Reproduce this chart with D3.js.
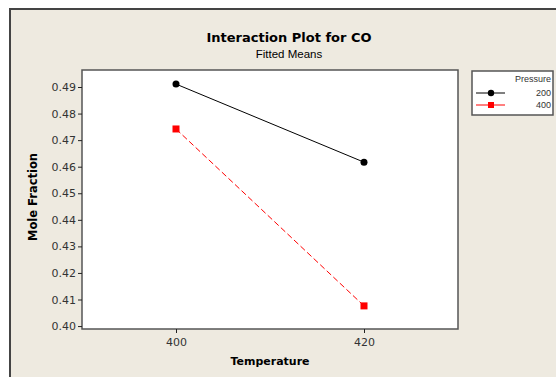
<!DOCTYPE html>
<html>
<head>
    <script type="text/javascript" src="https://cdn.jsdelivr.net/npm/d3@7"></script>
    <style>
        body { margin: 0; background: #fff; }
        text { font-family: "DejaVu Sans", Verdana, sans-serif; }
    </style>
</head>
<body>
    <div id="chart"></div>
    <script type="text/javascript">

        // data
        let temps = [400, 420];
        let pressures = ["200", "400"];
        let means200 = [0.4911, 0.4617];
        let means400 = [0.4742, 0.4076];
        let yTicks = [0.40, 0.41, 0.42, 0.43, 0.44, 0.45, 0.46, 0.47, 0.48, 0.49];

        let width = 556, height = 377;
        let plotLeft = 82, plotRight = 458, plotTop = 70, plotBottom = 329;

        let svg = d3.select("#chart")
            .append("svg")
            .attr("width", width)
            .attr("height", height);

        // outer beige frame
        svg.append("rect")
            .attr("x", 10).attr("y", 9)
            .attr("width", width).attr("height", height)
            .style("fill", "#eeeae0")
            .style("stroke", "#444")
            .style("stroke-width", 2);

        svg.append("text")
            .attr("x", 289).attr("y", 42)
            .attr("text-anchor", "middle")
            .style("font-size", "13px")
            .style("font-weight", "bold")
            .text("Interaction Plot for CO");
        svg.append("text")
            .attr("x", 289).attr("y", 58)
            .attr("text-anchor", "middle")
            .style("font-family", "'Liberation Sans', Arial, sans-serif")
            .style("font-size", "11.5px")
            .text("Fitted Means");

        let x = d3.scaleLinear().domain([390, 430]).range([plotLeft, plotRight]);
        let y = d3.scaleLinear().domain([0.3989, 0.4964]).range([plotBottom, plotTop]);

        svg.append("rect")
            .attr("x", plotLeft).attr("y", plotTop)
            .attr("width", plotRight - plotLeft).attr("height", plotBottom - plotTop)
            .style("fill", "#fff")
            .style("stroke", "#555")
            .style("stroke-width", 1.5);

        let yAxis = svg.append("g")
            .attr("transform", `translate(${plotLeft},0)`)
            .call(d3.axisLeft(y).tickValues(yTicks).tickSize(4).tickFormat(d3.format(".2f")));
        let xAxis = svg.append("g")
            .attr("transform", `translate(0,${plotBottom})`)
            .call(d3.axisBottom(x).tickValues(temps).tickSize(4).tickFormat(d3.format("d")));
        [yAxis, xAxis].forEach(a => {
            a.select(".domain").remove();
            a.selectAll(".tick line").style("stroke", "#222");
            a.selectAll("text")
                .style("font-family", "'DejaVu Sans', Verdana, sans-serif")
                .style("font-size", "11px")
                .style("fill", "#333");
        });
        yAxis.selectAll("text").attr("x", -6);
        xAxis.selectAll("text").attr("y", 9);

        svg.append("text")
            .attr("transform", "translate(37,197) rotate(-90)")
            .attr("text-anchor", "middle")
            .style("font-size", "11.5px")
            .style("font-weight", "bold")
            .text("Mole Fraction");
        svg.append("text")
            .attr("x", 270).attr("y", 365)
            .attr("text-anchor", "middle")
            .style("font-size", "11px")
            .style("font-weight", "bold")
            .text("Temperature");

        let line = d3.line().x(d => x(d[0])).y(d => y(d[1]));
        let pts200 = temps.map((t, i) => [t, means200[i]]);
        let pts400 = temps.map((t, i) => [t, means400[i]]);

        svg.append("path")
            .attr("d", line(pts200))
            .style("fill", "none")
            .style("stroke", "#000")
            .style("stroke-width", 1);
        svg.selectAll("circle.p200")
            .data(pts200)
            .enter()
            .append("circle")
            .attr("cx", d => x(d[0]))
            .attr("cy", d => y(d[1]))
            .attr("r", 3.5)
            .style("fill", "#000");

        svg.append("path")
            .attr("d", line(pts400))
            .style("fill", "none")
            .style("stroke", "#f00")
            .style("stroke-width", 1)
            .style("stroke-dasharray", "6,3");
        svg.selectAll("rect.p400")
            .data(pts400)
            .enter()
            .append("rect")
            .attr("x", d => x(d[0]) - 3.5)
            .attr("y", d => y(d[1]) - 3.5)
            .attr("width", 7).attr("height", 7)
            .style("fill", "#f00");

        // legend
        let lg = svg.append("g");
        lg.append("rect")
            .attr("x", 472).attr("y", 71)
            .attr("width", 81).attr("height", 44)
            .style("fill", "#fff")
            .style("stroke", "#555")
            .style("stroke-width", 1.5);
        lg.append("text")
            .attr("x", 551).attr("y", 82)
            .attr("text-anchor", "end")
            .style("font-family", "'Liberation Sans', Arial, sans-serif")
            .style("font-size", "9px")
            .style("fill", "#333")
            .text("Pressure");
        let colors = ["#000", "#f00"];
        pressures.forEach((p, i) => {
            let ly = 93 + i * 12;
            lg.append("line")
                .attr("x1", 476).attr("x2", 505)
                .attr("y1", ly).attr("y2", ly)
                .style("stroke", colors[i]);
            if (i === 0) {
                lg.append("circle").attr("cx", 491).attr("cy", ly).attr("r", 3.2).style("fill", colors[i]);
            } else {
                lg.append("rect").attr("x", 488).attr("y", ly - 3).attr("width", 6).attr("height", 6).style("fill", colors[i]);
            }
            lg.append("text")
                .attr("x", 551).attr("y", ly + 3)
                .attr("text-anchor", "end")
                .style("font-family", "'Liberation Sans', Arial, sans-serif")
                .style("font-size", "9px")
                .style("fill", "#333")
                .text(p);
        });

    </script>
</body>
</html>
